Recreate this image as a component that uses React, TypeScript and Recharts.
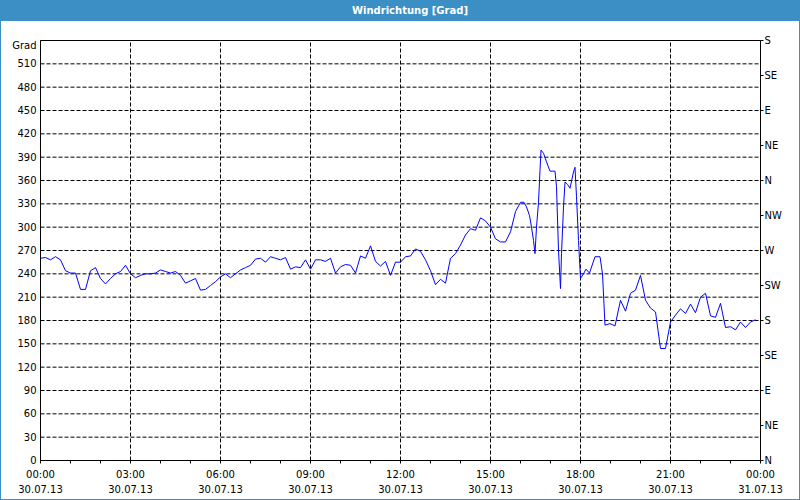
import React from "react";
import { LineChart, Line, XAxis, YAxis, CartesianGrid, ReferenceLine } from "recharts";

// time of reading in minutes after 00:00 on 30.07.13
const minutes = [
  0, 10, 20, 30, 40, 50, 60, 70, 80, 90,
  100, 110, 120, 130, 140, 150, 160, 170, 180, 190,
  200, 210, 220, 230, 240, 250, 260, 270, 280, 290,
  300, 310, 320, 330, 340, 350, 360, 370, 380, 390,
  400, 410, 420, 430, 440, 450, 460, 470, 480, 490,
  500, 510, 520, 530, 540, 550, 560, 570, 580, 590,
  600, 610, 620, 630, 640, 650, 660, 670, 680, 690,
  700, 710, 720, 730, 740, 750, 760, 770, 780, 790,
  800, 810, 820, 830, 840, 850, 860, 870, 880, 890,
  900, 910, 920, 930, 940, 950, 960,
  967, 972, 978, 982, 986, 989, 992, 996, 999, 1001,
  1006, 1012, 1019, 1029, 1032, 1036, 1040, 1042, 1046, 1049,
  1054, 1059, 1066, 1069, 1072, 1076, 1080, 1086, 1091, 1098,
  1109, 1119, 1124, 1129, 1139, 1149,
  1160, 1170, 1180, 1190, 1200, 1210, 1220, 1230, 1240, 1250,
  1260, 1270, 1280, 1290, 1300, 1310, 1320, 1330, 1340, 1350,
  1360, 1370, 1380, 1390, 1400, 1410, 1420, 1430,
];

// wind direction in degrees
const degrees = [
  260, 261, 258, 262, 258, 244, 241, 241, 220, 220,
  244, 248, 234, 227, 234, 240, 243, 251, 240, 235,
  238, 240, 240, 241, 245, 243, 241, 243, 238, 228,
  231, 234, 219, 220, 225, 230, 236, 240, 235, 240,
  245, 248, 251, 259, 260, 255, 262, 260, 258, 261,
  246, 249, 248, 258, 246, 258, 258, 256, 260, 241,
  249, 252, 251, 241, 263, 260, 276, 256, 250, 256,
  238, 255, 255, 262, 263, 272, 269, 258, 244, 226,
  233, 228, 260, 266, 277, 290, 298, 296, 312, 308,
  300, 285, 281, 281, 294, 320, 332,
  332, 326, 315, 300, 283, 266, 300, 332, 373, 399,
  395, 384, 372, 372, 352, 270, 221, 266, 326, 358,
  355, 350, 371, 377, 339, 283, 234, 240, 246, 241,
  262, 262, 240, 174, 176, 173,
  206, 192, 215, 219, 238, 206, 196, 191, 144, 144,
  178, 187, 195, 189, 201, 190, 210, 215, 186, 184,
  202, 171, 172, 168, 178, 171, 178, 181,
];

const hourTicks = [
  0, 60, 120, 180, 240, 300, 360, 420, 480, 540, 600, 660, 720,
  780, 840, 900, 960, 1020, 1080, 1140, 1200, 1260, 1320, 1380, 1440,
];
const timeTicks = [0, 180, 360, 540, 720, 900, 1080, 1260, 1440];
const timeLabels = ["00:00", "03:00", "06:00", "09:00", "12:00", "15:00", "18:00", "21:00", "00:00"];
const dateLabels = ["30.07.13", "30.07.13", "30.07.13", "30.07.13", "30.07.13", "30.07.13", "30.07.13", "30.07.13", "31.07.13"];

const gradTicks = [0, 30, 60, 90, 120, 150, 180, 210, 240, 270, 300, 330, 360, 390, 420, 450, 480, 510, 540];
const gradTopLabel = "Grad";

const compassTicks = [0, 45, 90, 135, 180, 225, 270, 315, 360, 405, 450, 495, 540];
const compassLabels = ["N", "NE", "E", "SE", "S", "SW", "W", "NW", "N", "NE", "E", "SE", "S"];

const title = "Windrichtung [Grad]";

const data = minutes.map((t, i) => ({ t, v: degrees[i] }));

const FONT = "DejaVu Sans, Verdana, sans-serif";
const BLUE = "#3c8fc5";

const XTick = (props: any) => {
  const { x, y, payload } = props;
  const i = timeTicks.indexOf(payload.value);
  if (i < 0) return <g />;
  return (
    <text x={x} y={y} textAnchor="middle" fontFamily={FONT} fontSize={10} fill="#000">
      <tspan x={x} dy={12}>{timeLabels[i]}</tspan>
      <tspan x={x} dy={15}>{dateLabels[i]}</tspan>
    </text>
  );
};

const LeftTick = (props: any) => {
  const { x, y, payload } = props;
  const isTop = payload.value === 540;
  return (
    <text x={x} y={y + (isTop ? 5 : 0)} dy="0.355em" textAnchor="end" fontFamily={FONT} fontSize={10} fill="#000">
      {isTop ? gradTopLabel : String(payload.value)}
    </text>
  );
};

const RightTick = (props: any) => {
  const { x, y, payload } = props;
  const i = compassTicks.indexOf(payload.value);
  return (
    <text x={x} y={y} dy="0.355em" textAnchor="start" fontFamily={FONT} fontSize={10} fill="#000">
      {compassLabels[i]}
    </text>
  );
};

export default function App() {
  return (
    <div style={{ position: "relative", width: 800, height: 500, background: "#fff", overflow: "hidden" }}>
      <style>{"body{margin:0}"}</style>
      <LineChart
        width={800}
        height={500}
        data={data}
        margin={{ top: 40.5, right: 0, bottom: 0, left: 0 }}
      >
        <CartesianGrid yAxisId="left" vertical={false} stroke="#000" strokeDasharray="4 2" horizontalPoints={undefined} />
        {timeTicks.slice(1, -1).map((t) => (
          <ReferenceLine key={t} x={t} yAxisId="left" stroke="#000" strokeDasharray="4 2" />
        ))}
        <ReferenceLine y={540} yAxisId="left" stroke="#000" />
        <XAxis
          dataKey="t"
          type="number"
          domain={[0, 1440]}
          ticks={hourTicks}
          interval={0}
          height={39.5}
          tickSize={3}
          tickMargin={2}
          stroke="#000"
          tick={XTick}
          allowDataOverflow
        />
        <YAxis
          yAxisId="left"
          orientation="left"
          domain={[0, 540]}
          ticks={gradTicks}
          interval={0}
          width={40.5}
          tickSize={0}
          tickMargin={4}
          stroke="#000"
          tick={LeftTick}
          allowDataOverflow
        />
        <YAxis
          yAxisId="right"
          orientation="right"
          domain={[0, 540]}
          ticks={compassTicks}
          interval={0}
          width={39.5}
          tickSize={3}
          tickMargin={1}
          stroke="#000"
          tick={RightTick}
          allowDataOverflow
        />
        <Line
          yAxisId="left"
          type="linear"
          dataKey="v"
          stroke="#0000ff"
          strokeWidth={1}
          dot={false}
          activeDot={false}
          isAnimationActive={false}
        />
      </LineChart>
      <div
        style={{
          position: "absolute",
          left: 0,
          top: 0,
          width: 800,
          height: 21,
          background: BLUE,
        }}
      >
        <div
          style={{
            position: "absolute",
            left: 310,
            width: 200,
            top: 0,
            height: 21,
            lineHeight: "21px",
            textAlign: "center",
            color: "#fff",
            fontFamily: FONT,
            fontWeight: "bold",
            fontSize: 10,
          }}
        >
          {title}
        </div>
      </div>
      <div
        style={{
          position: "absolute",
          left: 0,
          top: 0,
          width: 800,
          height: 500,
          boxSizing: "border-box",
          border: `1px solid ${BLUE}`,
          pointerEvents: "none",
        }}
      />
    </div>
  );
}
